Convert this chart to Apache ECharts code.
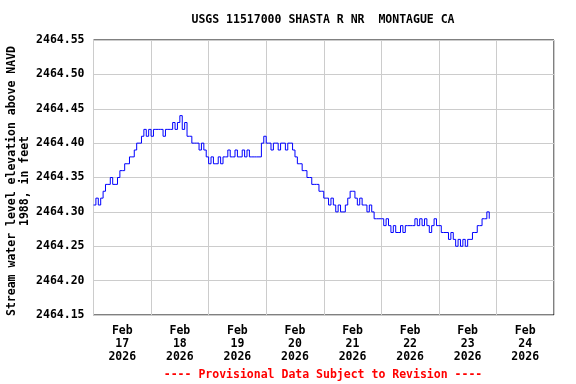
<!DOCTYPE html>
<html>
<head>
<meta charset="utf-8">
<script src="https://cdn.jsdelivr.net/npm/echarts@6/dist/echarts.min.js"></script>
<style>
html,body{margin:0;padding:0;background:#fff;}
#chart{width:576px;height:384px;}
</style>
</head>
<body>
<div id="chart"></div>
<script>
// Chart text
var titleText = 'USGS 11517000 SHASTA R NR  MONTAGUE CA';
var yAxisTitle = 'Stream water level elevation above NAVD\n1988, in feet';
var footerText = '---- Provisional Data Subject to Revision ----';

// X axis: hours since Feb 17 2026 00:00, one label per day (centered at noon)
var dayLabels = ['Feb\n17\n2026','Feb\n18\n2026','Feb\n19\n2026','Feb\n20\n2026',
                 'Feb\n21\n2026','Feb\n22\n2026','Feb\n23\n2026','Feb\n24\n2026'];
var xMinHours = 0, xMaxHours = 192, dayHours = 24;

// Y axis
var yMin = 2464.15, yMax = 2464.55, yStep = 0.05;

// Hourly readings, starting Feb 17 2026 00:00 (feet, NAVD 1988)
var stage = [
 // Feb 17
 2464.31,2464.32,2464.31,2464.32,2464.33,2464.34,2464.34,2464.35,2464.34,2464.34,2464.35,2464.36,
 2464.36,2464.37,2464.37,2464.38,2464.38,2464.39,2464.40,2464.40,2464.41,2464.42,2464.41,2464.42,
 // Feb 18
 2464.41,2464.42,2464.42,2464.42,2464.42,2464.41,2464.42,2464.42,2464.42,2464.43,2464.42,2464.43,
 2464.44,2464.42,2464.43,2464.41,2464.41,2464.40,2464.40,2464.40,2464.39,2464.40,2464.39,2464.38,
 // Feb 19
 2464.37,2464.38,2464.37,2464.37,2464.38,2464.37,2464.38,2464.38,2464.39,2464.38,2464.38,2464.39,
 2464.38,2464.38,2464.39,2464.38,2464.39,2464.38,2464.38,2464.38,2464.38,2464.38,2464.40,2464.41,
 // Feb 20
 2464.40,2464.40,2464.39,2464.40,2464.40,2464.39,2464.40,2464.40,2464.39,2464.40,2464.40,2464.39,
 2464.38,2464.37,2464.37,2464.36,2464.36,2464.35,2464.35,2464.34,2464.34,2464.34,2464.33,2464.33,
 // Feb 21
 2464.32,2464.32,2464.31,2464.32,2464.31,2464.30,2464.31,2464.30,2464.30,2464.31,2464.32,2464.33,
 2464.33,2464.32,2464.31,2464.32,2464.31,2464.31,2464.30,2464.31,2464.30,2464.29,2464.29,2464.29,
 // Feb 22
 2464.29,2464.28,2464.29,2464.28,2464.27,2464.28,2464.27,2464.27,2464.28,2464.27,2464.28,2464.28,
 2464.28,2464.28,2464.29,2464.28,2464.29,2464.28,2464.29,2464.28,2464.27,2464.28,2464.29,2464.28,
 // Feb 23
 2464.28,2464.27,2464.27,2464.27,2464.26,2464.27,2464.26,2464.25,2464.26,2464.25,2464.26,2464.25,
 2464.26,2464.26,2464.27,2464.27,2464.28,2464.28,2464.29,2464.29,2464.30,2464.29
];

var seriesData = stage.map(function (v, i) { return [i, v]; });

var FONT = '"DejaVu Sans Mono", "Liberation Mono", monospace';

var chart = echarts.init(document.getElementById('chart'), null, {renderer: 'canvas'});
chart.setOption({
  animation: false,
  backgroundColor: '#ffffff',
  graphic: [{
    type: 'text', x: 323, y: 20,
    style: {text: titleText, fill: '#000', font: 'bold 11.5px ' + FONT,
            textAlign: 'center', textVerticalAlign: 'middle'}
  }, {
    type: 'text', x: 323, y: 375,
    style: {text: footerText, fill: '#ff0000', font: 'bold 11.5px ' + FONT,
            textAlign: 'center', textVerticalAlign: 'middle'}
  }, {
    type: 'text', x: 18.5, y: 181, rotation: Math.PI / 2,
    style: {text: yAxisTitle, fill: '#000', font: 'bold 11.5px ' + FONT,
            lineHeight: 13, textAlign: 'center', textVerticalAlign: 'middle'}
  }],
  grid: {left: 93.5, right: 22, top: 40, bottom: 69, show: true, containLabel: false,
         outerBoundsMode: 'none',
         borderColor: '#000', borderWidth: 1, backgroundColor: 'transparent'},
  xAxis: [{
    type: 'value', min: xMinHours, max: xMaxHours, interval: dayHours,
    axisLine: {show: false}, axisTick: {show: false}, axisLabel: {show: false},
    splitLine: {show: true, lineStyle: {color: '#cccccc', width: 1}}
  }, {
    type: 'value', min: xMinHours, max: xMaxHours, interval: dayHours / 2,
    position: 'bottom',
    axisLine: {show: false}, axisTick: {show: false}, splitLine: {show: false},
    axisLabel: {
      show: true, margin: 10, lineHeight: 13,
      fontFamily: FONT, fontSize: 11.5, fontWeight: 'bold', color: '#000',
      formatter: function (v) {
        var k = Math.round(v / 12);
        if (k % 2 === 1) return dayLabels[(k - 1) / 2] || '';
        return '';
      }
    }
  }],
  yAxis: {
    type: 'value', min: yMin, max: yMax, interval: yStep,
    axisLine: {show: false}, axisTick: {show: false},
    axisLabel: {
      margin: 9, fontFamily: FONT, fontSize: 11.5, fontWeight: 'bold', color: '#000',
      formatter: function (v) { return v.toFixed(2); }
    },
    splitLine: {show: true, lineStyle: {color: '#cccccc', width: 1}}
  },
  series: [{
    type: 'line', xAxisIndex: 0, data: seriesData, step: 'end',
    showSymbol: false, symbol: 'none',
    lineStyle: {color: '#0000ff', width: 1}
  }]
});
</script>
</body>
</html>
